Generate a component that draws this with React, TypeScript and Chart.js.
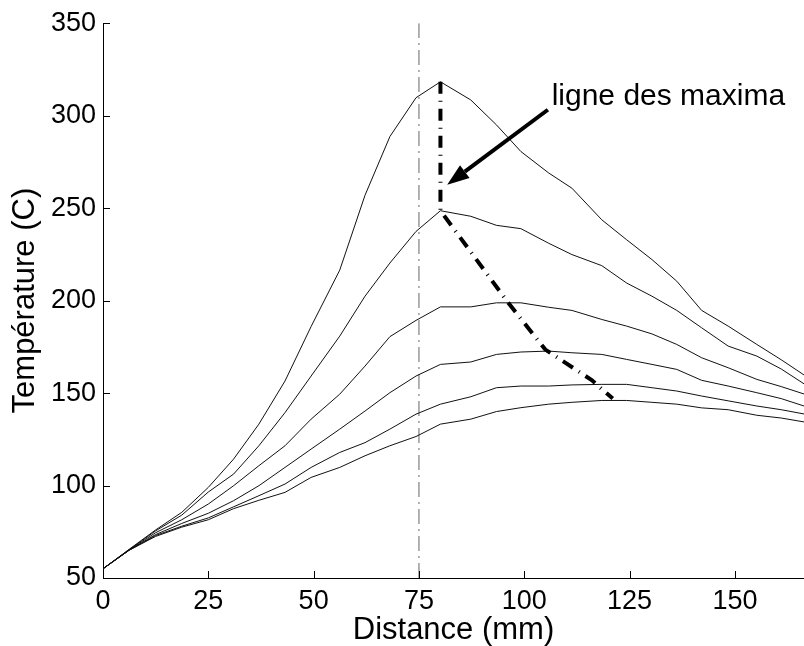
import React, { useEffect, useRef } from "react";
import { Chart, registerables } from "chart.js";

Chart.register(...registerables);

// Distance (mm) sample positions
const distances = [0, 6.2, 12.5, 18.7, 25, 31, 37, 43.2, 49.4, 56.2, 62.2, 68.1, 74.3, 80.1, 87.3, 93.4, 99.2, 105.8, 111.3, 118.4, 124.3, 130.3, 136.2, 142.1, 148.4, 155.2, 161, 166.4];

// Temperature curves (C)
const temp1 = [55, 65.5, 76, 85.5, 99, 114.3, 133.2, 156.5, 186, 216.5, 257, 288.7, 309.7, 318.3, 308.5, 295, 280.6, 269, 260.8, 243.7, 232.9, 222.2, 210.5, 194.7, 186.2, 176.3, 168, 159.8];
const temp2 = [55, 65.3, 75.5, 84, 96.5, 106.2, 121.5, 139.4, 159.2, 180.8, 202.4, 220.3, 237.4, 248.6, 245.6, 240.7, 238.9, 231, 224.9, 218.9, 209.5, 202.4, 194.7, 185.3, 175.4, 170, 163, 155];
const temp3 = [55, 65.2, 74.5, 81.5, 90, 99.9, 110.7, 121.5, 135.9, 149.4, 164.6, 180.5, 189.3, 196.6, 196.6, 198.8, 198.8, 196.4, 194.7, 189.8, 186.2, 182, 176.3, 169.1, 163.7, 157.4, 153.5, 149.5];
const temp4 = [55, 65.1, 73.5, 79.5, 85, 91.8, 99.9, 109.8, 119.7, 130.5, 140.3, 150.2, 159.2, 165.5, 166.8, 170.9, 172.2, 172.7, 171.8, 170.9, 168.2, 165.5, 162.8, 156.9, 153.8, 150.2, 147, 143];
const temp5 = [55, 65, 73, 78, 82.5, 88.5, 94.5, 100.8, 109.8, 117.9, 123.2, 130.5, 138.6, 144, 148, 152.9, 153.8, 153.8, 154.4, 154.7, 154.7, 152.9, 151.1, 148.4, 145.8, 143, 141, 138.7];
const temp6 = [55, 65, 72.5, 77.5, 81.5, 87.5, 92, 96.3, 104.4, 109.8, 116.1, 121.5, 126.5, 133.2, 135.9, 140, 142.1, 144, 145, 146, 146, 145, 144, 142, 141, 138, 136.5, 134.4];
const curves = [temp1, temp2, temp3, temp4, temp5, temp6];

// "ligne des maxima"
const maximaX = [80.1, 80.1, 96.2, 105, 116, 121];
const maximaY = [318.3, 248.6, 198.8, 173.5, 157, 147];

// vertical reference line
const refLineX = [75, 75];
const refLineY = [50, 350];

// axis ticks
const xTicks = [0, 25, 50, 75, 100, 125, 150];
const yTicks = [50, 100, 150, 200, 250, 300, 350];

// annotation
const annotationText = "ligne des maxima";
const annotationAt = [106.5, 305.8];
const arrowFrom = [105.6, 303.2];
const arrowTo = [81.7, 262.6];

const FONT = "'Liberation Sans', Arial, Helvetica, sans-serif";

const overlayPlugin = {
  id: "overlay",
  afterDatasetsDraw(chart: any) {
    const { ctx, scales } = chart;
    const x = scales.x;
    const y = scales.y;
    ctx.save();
    // inward tick marks
    ctx.strokeStyle = "#000";
    ctx.lineWidth = 1;
    xTicks.forEach((v) => {
      const px = Math.round(x.getPixelForValue(v)) + 0.5;
      ctx.beginPath();
      ctx.moveTo(px, y.bottom);
      ctx.lineTo(px, y.bottom - 7);
      ctx.stroke();
    });
    yTicks.forEach((v) => {
      const py = Math.round(y.getPixelForValue(v)) + 0.5;
      ctx.beginPath();
      ctx.moveTo(x.left, py);
      ctx.lineTo(x.left + 7, py);
      ctx.stroke();
    });
    // arrow
    const x0 = x.getPixelForValue(arrowFrom[0]);
    const y0 = y.getPixelForValue(arrowFrom[1]);
    const x1 = x.getPixelForValue(arrowTo[0]);
    const y1 = y.getPixelForValue(arrowTo[1]);
    const ang = Math.atan2(y1 - y0, x1 - x0);
    const headLen = 22;
    const headHalf = 8;
    const bx = x1 - headLen * Math.cos(ang);
    const by = y1 - headLen * Math.sin(ang);
    ctx.strokeStyle = "#000";
    ctx.fillStyle = "#000";
    ctx.lineWidth = 4;
    ctx.beginPath();
    ctx.moveTo(x0, y0);
    ctx.lineTo(bx, by);
    ctx.stroke();
    ctx.beginPath();
    ctx.moveTo(x1, y1);
    ctx.lineTo(bx + headHalf * Math.sin(ang), by - headHalf * Math.cos(ang));
    ctx.lineTo(bx - headHalf * Math.sin(ang), by + headHalf * Math.cos(ang));
    ctx.closePath();
    ctx.fill();
    // text
    ctx.font = `30px ${FONT}`;
    ctx.textAlign = "left";
    ctx.textBaseline = "alphabetic";
    ctx.fillText(annotationText, x.getPixelForValue(annotationAt[0]), y.getPixelForValue(annotationAt[1]));
    ctx.restore();
  },
};

export default function App() {
  const canvasRef = useRef<HTMLCanvasElement | null>(null);

  useEffect(() => {
    const canvas = canvasRef.current;
    if (!canvas) return;
    const curveSets = curves.map((vals, i) => ({
      label: `T${i + 1}`,
      data: distances.map((d, j) => ({ x: d, y: vals[j] })),
      borderColor: "#111",
      borderWidth: 1,
      pointRadius: 0,
      tension: 0,
      order: 3,
    }));
    const chart = new Chart(canvas, {
      type: "line",
      data: {
        datasets: [
          {
            label: "maxima",
            data: maximaX.map((d, j) => ({ x: d, y: maximaY[j] })),
            borderColor: "#000",
            borderWidth: 4,
            borderDash: [12, 7, 1, 7],
            pointRadius: 0,
            tension: 0,
            order: 1,
          },
          ...curveSets,
          {
            label: "ref",
            data: refLineX.map((d, j) => ({ x: d, y: refLineY[j] })),
            borderColor: "#666",
            borderWidth: 1,
            borderDash: [15, 5, 2, 5],
            pointRadius: 0,
            order: 4,
          },
        ],
      },
      options: {
        animation: false,
        responsive: false,
        devicePixelRatio: 1,
        layout: { padding: { top: 21.6, right: 0, left: 0, bottom: 0 } },
        plugins: { legend: { display: false }, tooltip: { enabled: false } },
        scales: {
          x: {
            type: "linear",
            min: 0,
            max: 166.4,
            afterFit: (s: any) => {
              s.height = 68;
            },
            afterBuildTicks: (s: any) => {
              s.ticks = xTicks.map((v) => ({ value: v }));
            },
            grid: { display: false, drawTicks: false },
            border: { display: true, color: "#000", width: 1 },
            ticks: { color: "#000", font: { family: FONT, size: 27 }, padding: 7, maxRotation: 0, autoSkip: false },
            title: {
              display: true,
              text: "Distance (mm)",
              color: "#000",
              font: { family: FONT, size: 31, lineHeight: 1 },
              padding: { top: 0, bottom: 0 },
            },
          },
          y: {
            type: "linear",
            min: 50,
            max: 350,
            afterFit: (s: any) => {
              s.width = 103;
            },
            afterBuildTicks: (s: any) => {
              s.ticks = yTicks.map((v) => ({ value: v }));
            },
            grid: { display: false, drawTicks: false },
            border: { display: true, color: "#000", width: 1 },
            ticks: { color: "#000", font: { family: FONT, size: 27 }, padding: 7, autoSkip: false },
            title: {
              display: true,
              text: "Température (C)",
              color: "#000",
              font: { family: FONT, size: 31, lineHeight: 1 },
              padding: { top: 10, bottom: 0 },
            },
          },
        },
      },
      plugins: [overlayPlugin],
    });
    return () => chart.destroy();
  }, []);

  return (
    <div style={{ position: "absolute", left: 0, top: 0, width: 804, height: 646, background: "#fff" }}>
      <canvas ref={canvasRef} width={804} height={646} style={{ display: "block" }} />
    </div>
  );
}
